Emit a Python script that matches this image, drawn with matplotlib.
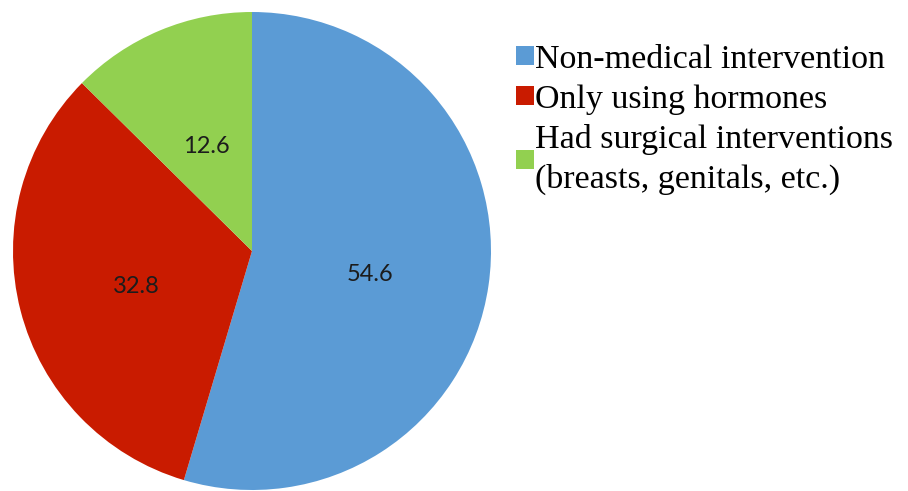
import matplotlib
matplotlib.use("Agg")
import matplotlib.pyplot as plt
import matplotlib.transforms as mtransforms
from matplotlib.patches import Patch

categories = [
    "Non-medical intervention",
    "Only using hormones",
    "Had surgical interventions\n(breasts, genitals, etc.)",
]
values = [54.6, 32.8, 12.6]
colors = ["#5B9BD5", "#C91B00", "#92D050"]

W, H = 908, 491
fig = plt.figure(figsize=(W / 100, H / 100), dpi=100)

# pie centred at (252, 251) px with a 239 px radius
cx, cy, r = 252, 251, 239
ax = fig.add_axes([(cx - r) / W, (H - cy - r) / H, 2 * r / W, 2 * r / H])
wedges, texts, autotexts = ax.pie(
    values,
    colors=colors,
    startangle=90,
    counterclock=False,
    autopct=lambda p: f"{p:.1f}",
    pctdistance=0.5,
    radius=1.0,
    wedgeprops=dict(linewidth=0),
    textprops=dict(fontsize=17, family="Lato", color="#1c1c1c"),
)
# nudge the value labels slightly below their wedge midpoints
shifted = mtransforms.offset_copy(ax.transData, fig=fig, x=0, y=-6, units="dots")
for t in autotexts:
    t.set_transform(shifted)
ax.set_xlim(-1, 1)
ax.set_ylim(-1, 1)
ax.set_aspect("equal")
ax.axis("off")

handles = [Patch(facecolor=c, edgecolor="none") for c in colors]
leg = fig.legend(
    handles,
    categories,
    loc="upper left",
    bbox_to_anchor=(516 / W, 1 - 44 / H),
    frameon=False,
    prop=dict(family="Liberation Serif", size=24.5),
    handlelength=0.52,
    handleheight=0.52,
    handletextpad=0.05,
    labelspacing=0.28,
    borderpad=0,
    borderaxespad=0,
)
for t in leg.get_texts():
    t.set_linespacing(1.38)

fig.savefig("out.png", dpi=100)
